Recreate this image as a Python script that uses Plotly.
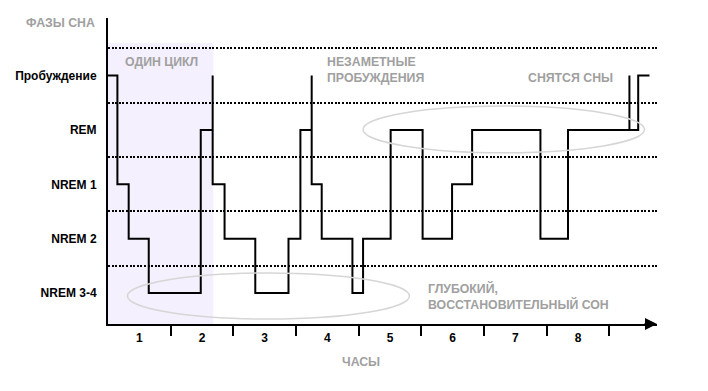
import plotly.graph_objects as go

# ---- data ----
stage_names = ["NREM 3-4", "NREM 2", "NREM 1", "REM", "Пробуждение"]
stage_levels = [0, 1, 2, 3, 4]
hour_labels = ["1", "2", "3", "4", "5", "6", "7", "8"]
hour_label_pos = [0.5, 1.5, 2.5, 3.5, 4.5, 5.5, 6.5, 7.5]
hour_ticks = [1, 2, 3, 4, 5, 6, 7, 8]
grid_levels = [0.5, 1.5, 2.5, 3.5, 4.5]

times = [0, 0.15, 0.33, 0.65, 1.48, 1.67, 1.67, 1.86, 2.35, 2.88, 3.07, 3.25, 3.25,
         3.41, 3.90, 4.07, 4.51, 5.02, 5.49, 5.81, 6.90, 7.34, 8.32, 8.32, 8.46, 8.64]
stages = [4, 2, 1, 0, 3, 4, 2, 1, 0, 1, 3, 4, 2,
          1, 0, 1, 3, 1, 2, 3, 1, 3, 4, 3, 4, 4]

cycle_span = [0, 1.68, 4.6]          # x0, x1, top level of "one cycle" band
deep_ellipse = [0.31, 4.81, -0.48, 0.37]
dream_ellipse = [4.07, 8.56, 2.58, 3.44]

GRAY = "#a0a0a0"
FONT = "Liberation Sans, Arial, sans-serif"

fig = go.Figure()
fig.add_trace(go.Scatter(
    x=times, y=stages, mode="lines", line=dict(color="black", width=2, shape="hv"),
    hoverinfo="skip", showlegend=False))

fig.add_shape(type="rect", xref="x", yref="y", x0=cycle_span[0], x1=cycle_span[1],
              y0=-0.57, y1=cycle_span[2], fillcolor="#f4f0fd", line=dict(width=0),
              layer="below")
fig.add_shape(type="circle", xref="x", yref="y",
              x0=deep_ellipse[0], x1=deep_ellipse[1], y0=deep_ellipse[2], y1=deep_ellipse[3],
              line=dict(color="#d6d6d6", width=1.5), layer="above")
fig.add_shape(type="circle", xref="x", yref="y",
              x0=dream_ellipse[0], x1=dream_ellipse[1], y0=dream_ellipse[2], y1=dream_ellipse[3],
              line=dict(color="#d6d6d6", width=1.5), layer="above")

def note(text, x, y):
    fig.add_annotation(text=text, x=x, y=y, xref="x", yref="y", xanchor="left",
                       yanchor="middle", align="left", showarrow=False,
                       font=dict(family=FONT, size=12.3, color=GRAY, weight="bold"))

note("ОДИН ЦИКЛ", 0.24, 4.25)
note("НЕЗАМЕТНЫЕ<br>ПРОБУЖДЕНИЯ", 3.46, 4.1)
note("СНЯТСЯ СНЫ", 6.67, 3.96)
note("ГЛУБОКИЙ,<br>ВОССТАНОВИТЕЛЬНЫЙ СОН", 5.07, -0.07)

fig.add_annotation(text="ФАЗЫ СНА", xref="paper", yref="paper", x=0, y=1,
                   xanchor="right", yanchor="middle", xshift=-11, yshift=-5,
                   showarrow=False, font=dict(family=FONT, size=12.3, color=GRAY, weight="bold"))
fig.add_annotation(text="ЧАСЫ", xref="paper", yref="paper", x=0.461, y=0,
                   xanchor="center", yanchor="middle", yshift=-38,
                   showarrow=False, font=dict(family=FONT, size=12.3, color=GRAY, weight="bold"))
# arrow head on the time axis
fig.add_annotation(text="", xref="paper", yref="paper", x=1, y=0, ax=-14, ay=0,
                   showarrow=True, arrowhead=2, arrowsize=1.2, arrowwidth=2,
                   arrowcolor="black", standoff=0)

# page body has an 8px default margin, so the figure is sized to fit the window
fig.update_layout(
    width=700, height=383, margin=dict(l=100, r=51, t=10, b=67),
    paper_bgcolor="white", plot_bgcolor="white",
    xaxis=dict(range=[0, 8.76], showline=True, linecolor="black", linewidth=2,
               automargin=False,
               tickvals=hour_label_pos, ticktext=hour_labels, ticks="",
               ticklabelstandoff=2,
               tickfont=dict(family=FONT, size=12, color="black", weight="bold"),
               showgrid=False, zeroline=False, fixedrange=True,
               minor=dict(tickvals=hour_ticks, ticks="outside", ticklen=10,
                          tickwidth=2, tickcolor="black", showgrid=False)),
    yaxis=dict(range=[-0.57, 5.06], showline=True, linecolor="black", linewidth=2,
               automargin=False,
               tickvals=stage_levels, ticktext=stage_names, ticks="",
               ticklabelstandoff=7,
               tickfont=dict(family=FONT, size=12, color="black", weight="bold"),
               showgrid=False, zeroline=False, fixedrange=True,
               minor=dict(tickvals=grid_levels, ticks="", showgrid=True,
                          gridcolor="black", gridwidth=2, griddash="2px,1.6px")),
)

fig.write_html("out.html")
